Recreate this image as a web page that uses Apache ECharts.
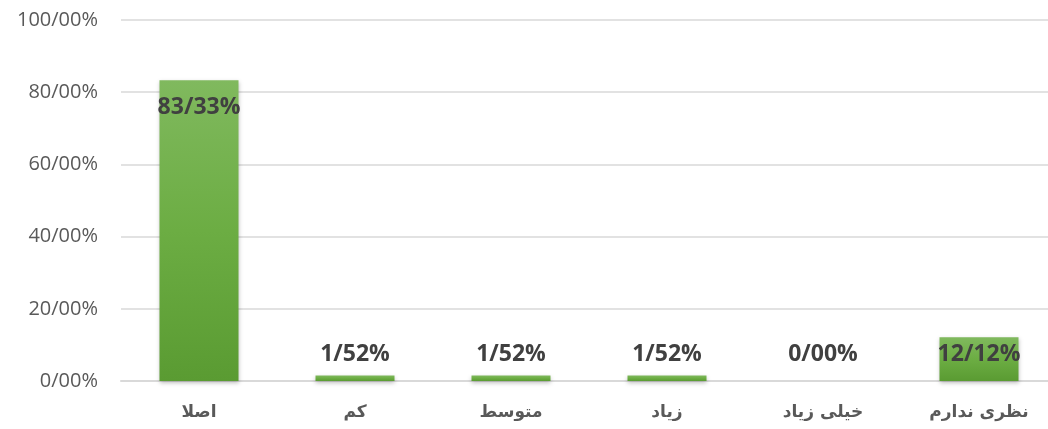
<!DOCTYPE html>
<html lang="fa">
  <head>
    <meta charset="UTF-8" />
    <script src="https://cdn.jsdelivr.net/npm/echarts@6/dist/echarts.min.js"></script>
    <title>نمودار</title>
    <style>
      html, body { margin: 0; padding: 0; background: #fff; overflow: hidden; }
    </style>
  </head>
  <body>
    <!-- a bit wider than the window: the plot area runs past the right edge, like the original -->
    <div id="main" style="width: 1057px; height: 429px"></div>
    <script>
      // دسته ها و مقادیر
      const categories = ["اصلا", "کم", "متوسط", "زیاد", "خیلی زیاد", "نظری ندارم"];
      const values = [83.33, 1.52, 1.52, 1.52, 0, 12.12];
      const yTicks = ["0/00%", "20/00%", "40/00%", "60/00%", "80/00%", "100/00%"];

      const fmt = (v) => v.toFixed(2).replace(".", "/") + "%";

      const seriesData = values.map((v) => {
        const big = v > 50;
        return {
          value: v,
          label: {
            position: big ? "insideTop" : "insideBottom",
            distance: big ? 16 : 15,
          },
        };
      });

      const chart = echarts.init(document.getElementById("main"));
      chart.setOption({
        animation: false,
        grid: { left: 121, right: 0, top: 20, bottom: 48 },
        xAxis: {
          type: "category",
          data: categories,
          axisLine: { lineStyle: { color: "#d9d9d9", width: 2 } },
          axisTick: { show: false },
          axisLabel: {
            color: "#595959",
            fontFamily: "DejaVu Sans",
            fontWeight: "bold",
            fontSize: 17,
            margin: 23,
          },
        },
        yAxis: {
          type: "value",
          min: 0,
          max: 100,
          interval: 20,
          axisLine: { show: false },
          axisTick: { show: false },
          splitLine: { lineStyle: { color: "#d9d9d9", width: 1.5 } },
          axisLabel: {
            color: "#595959",
            fontFamily: "Open Sans",
            fontSize: 20,
            margin: 23,
            formatter: (v) => yTicks[Math.round(v / 20)],
          },
        },
        series: [
          {
            type: "bar",
            data: seriesData,
            barWidth: 79,
            itemStyle: {
              color: new echarts.graphic.LinearGradient(0, 0, 0, 1, [
                { offset: 0, color: "#80b95e" },
                { offset: 0.5, color: "#6cad43" },
                { offset: 1, color: "#5a9b32" },
              ]),
              shadowColor: "rgba(0,0,0,0.25)",
              shadowBlur: 4,
              shadowOffsetY: 2,
            },
            label: {
              show: true,
              color: "#404040",
              fontFamily: "Open Sans",
              fontWeight: "bold",
              fontSize: 23,
              formatter: (p) => fmt(p.value),
            },
          },
        ],
      });
    </script>
  </body>
</html>
